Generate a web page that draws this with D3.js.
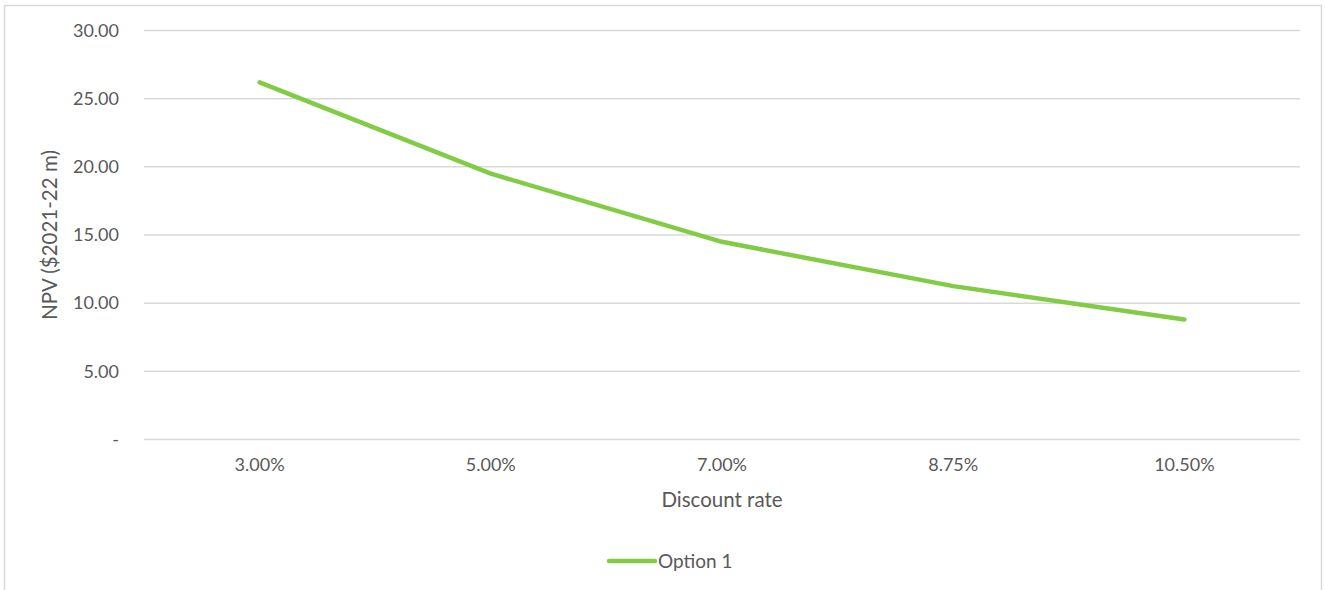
<!DOCTYPE html>
<html>
<head>
<meta charset="utf-8">
<script src="https://cdn.jsdelivr.net/npm/d3@7"></script>
<style>
  html, body { margin: 0; padding: 0; background: #fff; }
  svg { display: block; font-family: Lato, "Open Sans", sans-serif; }
</style>
</head>
<body>
<svg id="chart" width="1325" height="590"></svg>
<script>
// Discount-rate sensitivity of NPV for Option 1
const categories = ["3.00%", "5.00%", "7.00%", "8.75%", "10.50%"];
const option1 = [26.2, 19.5, 14.5, 11.25, 8.8];
const yTicks = [0, 5, 10, 15, 20, 25, 30];
const seriesName = "Option 1";
const xTitle = "Discount rate";
const yTitle = "NPV ($2021-22 m)";

const svg = d3.select("#chart");
const W = 1325, H = 590;
const margin = { left: 144, right: 25, top: 30.5, bottom: 150.5 };
const plotW = W - margin.left - margin.right;
const plotH = H - margin.top - margin.bottom;

const textColor = "#595959";
const gridColor = "#d9d9d9";
const lineColor = "#82cc45";

// outer chart frame
svg.append("rect")
  .attr("x", 4.5).attr("y", 5.5)
  .attr("width", 1317).attr("height", 600)
  .attr("fill", "none").attr("stroke", "#d9d9d9").attr("stroke-width", 1.5);

const x = d3.scaleBand().domain(categories).range([0, plotW]);
const y = d3.scaleLinear().domain([0, 30]).range([plotH, 0]);

const g = svg.append("g").attr("transform", `translate(${margin.left},${margin.top})`);

// horizontal gridlines
g.append("g").selectAll("line").data(yTicks).join("line")
  .attr("x1", 0).attr("x2", plotW)
  .attr("y1", d => y(d)).attr("y2", d => y(d))
  .attr("stroke", gridColor).attr("stroke-width", 1.5);

// y axis labels
const yAxis = d3.axisLeft(y).tickValues(yTicks)
  .tickSize(0).tickPadding(25)
  .tickFormat(d => d === 0 ? "-" : d3.format(".2f")(d));
const yg = g.append("g").call(yAxis);
yg.select(".domain").remove();
yg.selectAll("text").attr("fill", textColor).style("font-size", "18px")
  .style("font-family", "Lato, sans-serif");

// x axis labels
const xAxis = d3.axisBottom(x).tickSize(0).tickPadding(19);
const xg = g.append("g").attr("transform", `translate(0,${plotH})`).call(xAxis);
xg.select(".domain").remove();
xg.selectAll("text").attr("fill", textColor).style("font-size", "18px")
  .style("font-family", "Lato, sans-serif");

// axis titles
svg.append("text")
  .attr("x", margin.left + plotW / 2).attr("y", 507)
  .attr("text-anchor", "middle").attr("fill", textColor)
  .style("font-size", "20.5px").text(xTitle);

svg.append("text")
  .attr("transform", `translate(57,${margin.top + plotH / 2}) rotate(-90)`)
  .attr("text-anchor", "middle").attr("fill", textColor)
  .style("font-size", "20.5px").text(yTitle);

// series line
const line = d3.line()
  .x((d, i) => x(categories[i]) + x.bandwidth() / 2)
  .y(d => y(d));

g.append("path").datum(option1)
  .attr("d", line)
  .attr("fill", "none").attr("stroke", lineColor)
  .attr("stroke-width", 4.5).attr("stroke-linecap", "round")
  .attr("stroke-linejoin", "round");

// legend
const lg = svg.append("g").attr("transform", "translate(609,561)");
lg.append("line").attr("x1", 0).attr("x2", 46).attr("y1", 0).attr("y2", 0)
  .attr("stroke", lineColor).attr("stroke-width", 4.5).attr("stroke-linecap", "round");
lg.append("text").attr("x", 49).attr("y", 6.5).attr("fill", textColor)
  .style("font-size", "19px").text(seriesName);
</script>
</body>
</html>
